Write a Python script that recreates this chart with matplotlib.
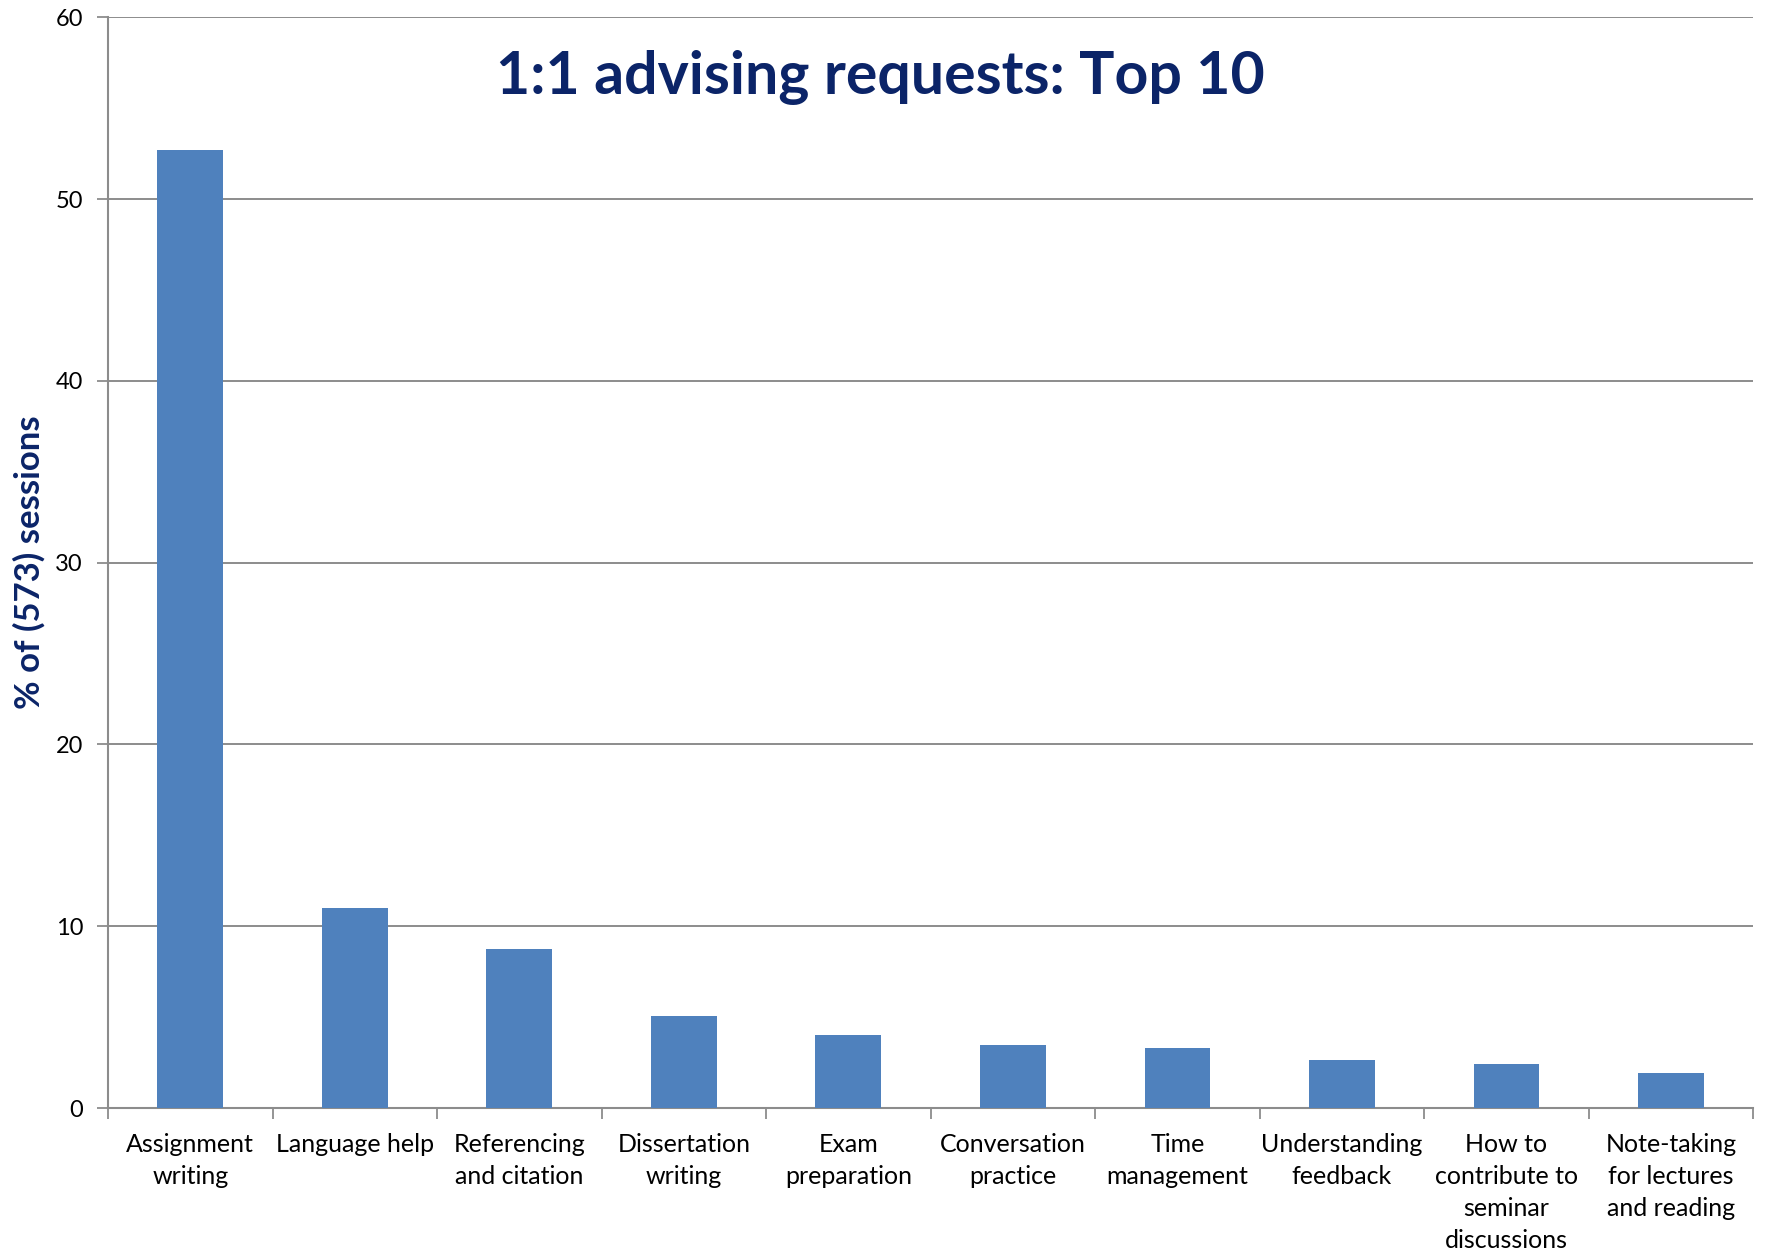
import matplotlib
matplotlib.use("Agg")
import matplotlib.pyplot as plt
import numpy as np

categories = [
    "Assignment\nwriting",
    "Language help",
    "Referencing\nand citation",
    "Dissertation\nwriting",
    "Exam\npreparation",
    "Conversation\npractice",
    "Time\nmanagement",
    "Understanding\nfeedback",
    "How to\ncontribute to\nseminar\ndiscussions",
    "Note-taking\nfor lectures\nand reading",
]
percent_sessions = [52.7, 10.99, 8.73, 5.06, 4.01, 3.49, 3.32, 2.62, 2.44, 1.92]
y_ticks = [0, 10, 20, 30, 40, 50, 60]

title_text = "1:1 advising requests: Top 10"
ylabel_text = "% of (573) sessions"

navy = "#0B2468"
bar_color = "#4F81BD"
grid_color = "#8C8C8C"

plt.rcParams["font.family"] = ["Lato", "DejaVu Sans"]

fig = plt.figure(figsize=(17.71, 12.55), dpi=100)
ax = fig.add_axes([0.061, 0.1171, 0.929, 0.8691])

x = np.arange(len(categories))
ax.bar(x, percent_sessions, width=0.4, color=bar_color, zorder=3)

ax.set_xlim(-0.5, len(categories) - 0.5)
ax.set_ylim(0, 60)
ax.set_yticks(y_ticks)
ax.set_yticklabels([str(v) for v in y_ticks], fontsize=17)

# category labels centred under bars, tick marks on category boundaries
ax.set_xticks(np.arange(-0.5, len(categories), 1.0))
ax.set_xticklabels([])
ax.tick_params(axis="x", which="major", length=8, width=1.3, color=grid_color, direction="out")
ax.set_xticks(x, minor=True)
ax.set_xticklabels(categories, minor=True, fontsize=18, linespacing=1.48)
ax.tick_params(axis="x", which="minor", length=0, pad=18)
ax.tick_params(axis="y", length=8, width=1.3, color=grid_color, direction="out", pad=10)

ax.yaxis.grid(True, color=grid_color, linewidth=1.4, zorder=0)
ax.set_axisbelow(True)
for side in ["top", "right"]:
    ax.spines[side].set_visible(False)
for side in ["left", "bottom"]:
    ax.spines[side].set_color(grid_color)
    ax.spines[side].set_linewidth(1.5)

ax.text(0.4696, 0.945, title_text, transform=ax.transAxes, ha="center", va="center",
        fontsize=42.5, fontweight="bold", color=navy)

fig.text(0.0165, 0.552, ylabel_text, rotation=90, ha="center", va="center",
         fontsize=25, fontweight="bold", color=navy)

fig.savefig("out.png", dpi=100, facecolor="white")
